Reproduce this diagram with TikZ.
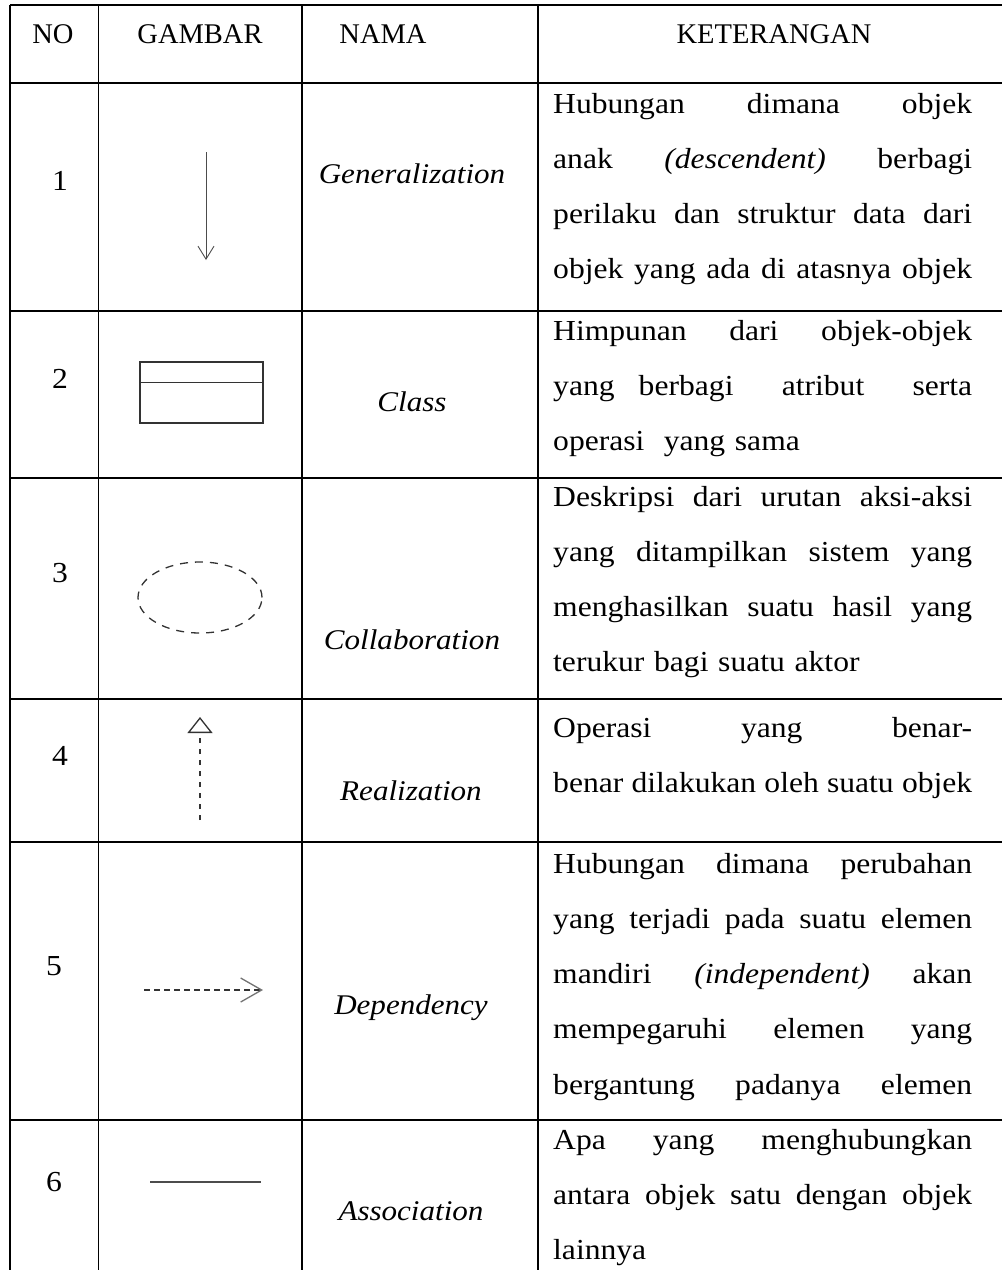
\documentclass[tikz,border=0pt]{standalone}
\usepackage{fontspec}
\setmainfont{Liberation Serif}[FakeStretch=1.09]
\newfontfamily\hdrfont{Liberation Serif}
\usetikzlibrary{arrows.meta,shapes.geometric}
\newcommand{\jl}[1]{\leavevmode\hbox to 419pt{\spaceskip=.25em plus 1fil\relax #1}}
\begin{document}
\begin{tikzpicture}[x=1pt,y=-1pt]
			\tikzstyle{grid}=[line width=1.6pt,black]
			\tikzstyle{txt}=[inner sep=0,anchor=base,font=\fontsize{29}{55.3}\selectfont]
			\tikzstyle{hdr}=[txt,font=\fontsize{28.5}{34}\selectfont\hdrfont]
			\tikzstyle{nama}=[txt,font=\fontsize{28.5}{55.3}\selectfont\itshape]
			\tikzstyle{ket}=[txt,anchor=base west,text width=419pt,align=left]
			\tikzstyle{sym}=[line width=1.3pt,draw=black!80]
			\useasboundingbox (0,0) rectangle (1002,1270);
			\clip (0,0) rectangle (1002,1270);
			
			\draw[grid] (10,5) -- (1010,5) (10,83) -- (1010,83) (10,311) -- (1010,311)
			(10,478) -- (1010,478) (10,699) -- (1010,699) (10,842) -- (1010,842)
			(10,1120) -- (1010,1120)
			(10,5) -- (10,1280) (98.5,5) -- (98.5,1280) (302,5) -- (302,1280) (538,5) -- (538,1280);
			
			\begin{scope}
			\node[hdr] (h-no) at (53,43) {NO};
			\node[hdr] (h-gambar) at (200,43) {GAMBAR};
			\node[hdr] (h-nama) at (383,43) {NAMA};
			\node[hdr] (h-ket) at (774,43) {KETERANGAN};
			
			\node[txt] (no-1) at (60,190)  {1};
			\node[txt] (no-2) at (60,388)  {2};
			\node[txt] (no-3) at (60,582)  {3};
			\node[txt] (no-4) at (60,765)  {4};
			\node[txt] (no-5) at (54,975)  {5};
			\node[txt] (no-6) at (54,1191) {6};
			
			\node[nama] (nama-1) at (412,183)  {Generalization};
			\node[nama] (nama-2) at (412,411)  {Class};
			\node[nama] (nama-3) at (412,649)  {Collaboration};
			\node[nama] (nama-4) at (411,800)  {Realization};
			\node[nama] (nama-5) at (411,1014) {Dependency};
			\node[nama] (nama-6) at (411,1220) {Association};
			
			\node[ket] (ket-1) at (553,113) {\jl{Hubungan dimana objek}\\
				\jl{anak \textit{(descendent)} berbagi}\\
				\jl{perilaku dan struktur data dari}\\
				\jl{objek yang ada di atasnya objek}};
			\node[ket] (ket-2) at (553,340) {\jl{Himpunan dari objek-objek}\\
				\jl{yang berbagi\ \ atribut\ \ serta}\\
				operasi\ \ yang sama};
			\node[ket] (ket-3) at (553,506) {\jl{Deskripsi dari urutan aksi-aksi}\\
				\jl{yang ditampilkan sistem yang}\\
				\jl{menghasilkan suatu hasil yang}\\
				terukur bagi suatu aktor};
			\node[ket] (ket-4) at (553,737) {\jl{Operasi yang benar-}\\
				\jl{benar dilakukan oleh suatu objek}};
			\node[ket] (ket-5) at (553,873) {\jl{Hubungan dimana perubahan}\\
				\jl{yang terjadi pada suatu elemen}\\
				\jl{mandiri \textit{(independent)} akan}\\
				\jl{mempegaruhi elemen yang}\\
				\jl{bergantung padanya elemen}};
			\node[ket] (ket-6) at (553,1149) {\jl{Apa yang menghubungkan}\\
				\jl{antara objek satu dengan objek}\\
				lainnya};
			\end{scope}
			
			\coordinate (gen-a) at (206,152);
			\coordinate (gen-b) at (206,260);
			\node[sym,minimum width=123pt,minimum height=61pt,inner sep=0] (classbox) at (201.5,392.5) {};
			\node[sym,ellipse,dash pattern=on 8pt off 7pt,minimum width=124pt,minimum height=71pt,inner sep=0] (collab) at (200,597.5) {};
			\coordinate (real-a) at (200,820);
			\coordinate (real-b) at (200,717);
			\coordinate (dep-a) at (144,990);
			\coordinate (dep-b) at (263,990);
			\coordinate (assoc-a) at (150,1182);
			\coordinate (assoc-b) at (261,1182);
			
			\draw[sym,line width=0.9pt,draw=black!70,-{Straight Barb[length=13pt,width=16pt]}] (gen-a) -- (gen-b);
			\draw[sym] ([yshift=-21pt]classbox.north west) -- ([yshift=-21pt]classbox.north east);
			\draw[sym,dash pattern=on 5pt off 6pt,-{Triangle[open,length=16pt,width=25pt]}] (real-a) -- (real-b);
			\draw[sym,dash pattern=on 6pt off 4pt,-{Straight Barb[length=21pt,width=24pt,color=black!55]}] (dep-a) -- (dep-b);
			\draw[sym,line width=1.5pt,draw=black!70] (assoc-a) -- (assoc-b);
		\end{tikzpicture}
\end{document}
